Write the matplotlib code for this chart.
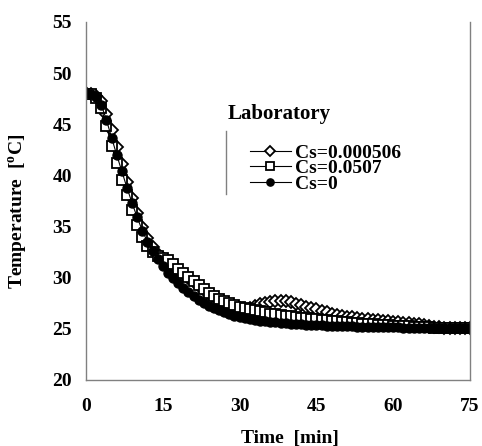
import matplotlib.pyplot as plt
from matplotlib.lines import Line2D

plt.rcParams['font.family'] = ['Liberation Serif', 'DejaVu Serif']
plt.rcParams['font.weight'] = 'bold'
plt.rcParams['axes.labelweight'] = 'bold'
plt.rcParams['mathtext.fontset'] = 'custom'
plt.rcParams['mathtext.rm'] = 'Liberation Serif:bold'
plt.rcParams['mathtext.bf'] = 'Liberation Serif:bold'

# time [min], one reading per minute
time = list(range(76))

# Cs=0.000506 (open diamonds)
cs_000506 = [48.1, 48.0, 47.8, 47.3, 46.0, 44.4, 42.8, 41.1, 39.4, 37.8,
             36.3, 35.0, 33.9, 33.0, 32.3, 31.9, 31.6, 31.2, 30.8, 30.4,
             30.0, 29.6, 29.2, 28.8, 28.4, 28.1, 27.8, 27.6, 27.4, 27.2,
             27.0, 26.9, 27.0, 27.2, 27.4, 27.55, 27.65, 27.7, 27.75, 27.7,
             27.6, 27.45, 27.3, 27.15, 27.0, 26.9, 26.75, 26.6, 26.5, 26.4,
             26.3, 26.2, 26.15, 26.1, 26.0, 25.95, 25.9, 25.85, 25.8, 25.75,
             25.7, 25.65, 25.6, 25.55, 25.5, 25.45, 25.35, 25.25, 25.2, 25.15,
             25.1, 25.1, 25.1, 25.1, 25.1, 25.1]

# Cs=0.0507 (open squares)
cs_0507 = [48.0, 48.0, 47.6, 46.6, 44.8, 42.9, 41.2, 39.6, 38.1, 36.6,
           35.2, 34.0, 33.1, 32.5, 32.1, 31.9, 31.7, 31.3, 30.9, 30.5,
           30.1, 29.7, 29.3, 28.9, 28.5, 28.2, 27.9, 27.7, 27.5, 27.3,
           27.1, 27.0, 26.9, 26.8, 26.7, 26.6, 26.5, 26.45, 26.4, 26.3,
           26.25, 26.2, 26.1, 26.05, 26.0, 25.95, 25.9, 25.85, 25.8, 25.75,
           25.7, 25.65, 25.6, 25.55, 25.5, 25.5, 25.45, 25.4, 25.4, 25.35,
           25.3, 25.3, 25.25, 25.25, 25.2, 25.2, 25.15, 25.15, 25.1, 25.1,
           25.1, 25.1, 25.1, 25.1, 25.1, 25.1]

# Cs=0 (filled circles)
cs_0 = [48.1, 48.0, 47.7, 46.9, 45.4, 43.7, 42.0, 40.4, 38.8, 37.3,
        35.9, 34.6, 33.5, 32.6, 31.8, 31.1, 30.5, 30.0, 29.5, 29.0,
        28.6, 28.2, 27.8, 27.5, 27.2, 27.0, 26.8, 26.6, 26.5, 26.3,
        26.2, 26.1, 26.0, 25.9, 25.8, 25.75, 25.7, 25.65, 25.6, 25.55,
        25.5, 25.5, 25.45, 25.4, 25.4, 25.35, 25.35, 25.3, 25.3, 25.3,
        25.25, 25.25, 25.25, 25.2, 25.2, 25.2, 25.2, 25.2, 25.15, 25.15,
        25.15, 25.15, 25.1, 25.1, 25.1, 25.1, 25.1, 25.1, 25.1, 25.1,
        25.1, 25.1, 25.1, 25.1, 25.1, 25.1]

x_ticks = [0, 15, 30, 45, 60, 75]
y_ticks = [20, 25, 30, 35, 40, 45, 50, 55]

W, H = 482, 446
fig = plt.figure(figsize=(W / 100, H / 100), dpi=100)
ax = fig.add_axes([86 / W, 1 - 380 / H, (470 - 86) / W, (380 - 22) / H])

ax.plot(time, cs_000506, '-D', color='black', lw=0.8, ms=6,
        mfc='white', mec='black', mew=1.3, label='Cs=0.000506')
ax.plot(time, cs_0507, '-s', color='black', lw=0.8, ms=6.5,
        mfc='white', mec='black', mew=1.3, label='Cs=0.0507')
ax.plot(time, cs_0, '-o', color='black', lw=0.8, ms=6.5,
        mfc='black', mec='black', mew=1.0, label='Cs=0')

ax.set_xlim(0, 75)
ax.set_ylim(20, 55)
ax.set_xticks(x_ticks)
ax.set_yticks(y_ticks)
ax.tick_params(axis='both', which='major', length=0, labelsize=14)
ax.tick_params(axis='x', which='major', pad=13)
ax.tick_params(axis='y', which='major', pad=10)
ax.set_xticks([30, 45], minor=True)
ax.set_yticks([30, 45], minor=True)
ax.tick_params(which='minor', direction='in', length=5, color='#808080')

for side in ['left', 'bottom', 'right']:
    ax.spines[side].set_color('#808080')
    ax.spines[side].set_linewidth(1)
ax.spines['top'].set_visible(False)

ax.set_xlabel('Time  [min]', fontsize=14, fontweight='bold')
ax.set_ylabel('Temperature  [$^{\\mathrm{o}}$C]', fontsize=14, fontweight='bold')
ax.xaxis.set_label_coords(0.53, -0.14)
ax.yaxis.set_label_coords(-0.145, 0.47)

leg = ax.legend(loc='upper left', bbox_to_anchor=(250 / W, 1 - 144 / H),
                bbox_transform=fig.transFigure, frameon=False,
                prop={'size': 14, 'weight': 'bold'},
                handlelength=2.1, handletextpad=0.2, labelspacing=-0.1,
                borderpad=0, borderaxespad=0, markerscale=0.8)

fig.text(228 / W, 1 - 114 / H, 'Laboratory', fontsize=15, fontweight='bold',
         ha='left', va='center')
fig.add_artist(Line2D([226 / W, 226 / W], [1 - 131 / H, 1 - 194 / H],
                      transform=fig.transFigure, color='#808080', lw=1))

fig.savefig('out.png', dpi=100)
